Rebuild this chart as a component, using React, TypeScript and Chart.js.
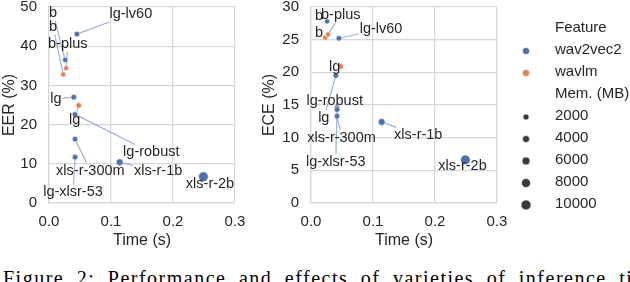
import React, { useEffect, useRef } from 'react';
import { Chart, registerables } from 'chart.js';
Chart.register(...registerables);

// ---- data ----
const models = ['b', 'lg', 'lg-lv60', 'lg-robust', 'lg-xlsr-53', 'xls-r-300m', 'xls-r-1b', 'xls-r-2b', 'b', 'b-plus', 'lg'];
const features = ['wav2vec2', 'wav2vec2', 'wav2vec2', 'wav2vec2', 'wav2vec2', 'wav2vec2', 'wav2vec2', 'wav2vec2', 'wavlm', 'wavlm', 'wavlm'];
const timeS = [0.026, 0.040, 0.045, 0.042, 0.042, 0.042, 0.114, 0.249, 0.023, 0.0275, 0.048];
const eerPct = [36.5, 27.0, 43.1, 22.6, 11.7, 16.3, 10.4, 6.7, 32.8, 34.4, 24.9];
const ecePct = [27.8, 19.5, 25.2, 14.6, 14.3, 13.3, 12.4, 6.6, 25.3, 25.8, 20.9];
const memMB = [360, 1200, 1200, 1200, 1200, 1200, 3800, 9500, 360, 360, 1200];

// text-label anchors (data units)
const eerLabelTime = [0.0065, 0.011, 0.132, 0.165, 0.0387, 0.0667, 0.176, 0.2597, 0.0065, 0.0303, 0.0414];
const eerLabelPct = [48.5, 26.5, 48.2, 12.9, 2.7, 8.25, 8.1, 4.9, 45.0, 40.5, 21.3];
const eceLabelTime = [0.013, 0.0206, 0.113, 0.0383, 0.0399, 0.0493, 0.173, 0.2444, 0.013, 0.048, 0.038];
const eceLabelPct = [28.6, 13.0, 26.7, 15.55, 6.3, 9.97, 10.35, 5.6, 26.0, 28.75, 20.8];

const featureNames = ['wav2vec2', 'wavlm'];
const memLegendMB = [2000, 4000, 6000, 8000, 10000];
const timeTicks = [0, 0.1, 0.2, 0.3];
const eerTicks = [0, 10, 20, 30, 40, 50];
const eceTicks = [0, 5, 10, 15, 20, 25, 30];

// ---- styles ----
const featureColors = ['#4c72b0', '#dd8452'];
const FONT = '"Liberation Sans", Arial, sans-serif';
const TEXT = '#262626';
const GRID = '#d6d6d6';
const LINK = 'rgba(76,114,176,0.55)';
const SIZE_MARK = '#3a3a3a';

function radiusFor(mem: number) {
  return 2.5 + mem / 4000;
}

function labelPlugin(yVals: number[], lx: number[], ly: number[]) {
  return {
    id: 'pointLabels',
    afterDatasetsDraw(chart: any) {
      const { ctx, scales } = chart;
      const x = scales.x, y = scales.y;
      ctx.save();
      ctx.font = `14.5px ${FONT}`;
      const items = models.map((name, i) => ({
        name,
        px: x.getPixelForValue(timeS[i]),
        py: y.getPixelForValue(yVals[i]),
        tx: x.getPixelForValue(lx[i]),
        ty: y.getPixelForValue(ly[i]),
        w: ctx.measureText(name).width,
        r: radiusFor(memMB[i]),
      }));
      ctx.strokeStyle = LINK;
      ctx.lineWidth = 1.2;
      for (const it of items) {
        const dx = it.px - it.tx, dy = it.py - it.ty;
        const hw = it.w / 2 + 1, hh = 8;
        const t = Math.min(dx ? hw / Math.abs(dx) : Infinity, dy ? hh / Math.abs(dy) : Infinity);
        if (t >= 1) continue;
        const sx = it.tx + dx * t, sy = it.ty + dy * t;
        const len = Math.hypot(it.px - sx, it.py - sy);
        if (len < it.r + 1.5) continue;
        const ex = it.px - ((it.px - sx) / len) * it.r;
        const ey = it.py - ((it.py - sy) / len) * it.r;
        ctx.beginPath();
        ctx.moveTo(sx, sy);
        ctx.lineTo(ex, ey);
        ctx.stroke();
      }
      ctx.fillStyle = TEXT;
      ctx.textAlign = 'center';
      ctx.textBaseline = 'middle';
      for (const it of items) ctx.fillText(it.name, it.tx, it.ty);
      ctx.restore();
    },
  };
}

const legendPlugin = {
  id: 'sizeLegend',
  afterDraw(chart: any) {
    const { ctx } = chart;
    const markX = 266, textX = 295, top = 28, step = 22;
    ctx.save();
    ctx.font = `15px ${FONT}`;
    ctx.textAlign = 'left';
    ctx.textBaseline = 'middle';
    const rows: { text: string; color: string | null; r: number }[] = [];
    rows.push({ text: 'Feature', color: null, r: 0 });
    featureNames.forEach((f, k) => rows.push({ text: f, color: featureColors[k], r: 3.6 }));
    rows.push({ text: 'Mem. (MB)', color: null, r: 0 });
    memLegendMB.forEach((m) => rows.push({ text: String(m), color: SIZE_MARK, r: radiusFor(m) }));
    rows.forEach((row, k) => {
      const yy = top + k * step;
      if (row.color) {
        ctx.beginPath();
        ctx.arc(markX, yy + 1, row.r, 0, Math.PI * 2);
        ctx.fillStyle = row.color;
        ctx.fill();
        ctx.strokeStyle = '#ffffff';
        ctx.lineWidth = 0.6;
        ctx.stroke();
      }
      ctx.fillStyle = TEXT;
      ctx.fillText(row.text, textX, yy);
    });
    ctx.restore();
  },
};

function makeChart(
  canvas: HTMLCanvasElement,
  yVals: number[],
  lx: number[],
  ly: number[],
  yTicks: number[],
  yTitle: string,
  yAxisWidth: number,
  padRight: number,
  withLegend: boolean
) {
  const datasets = featureNames.map((f, k) => {
    const idx = models.map((_, i) => i).filter((i) => features[i] === f);
    return {
      label: f,
      data: idx.map((i) => ({ x: timeS[i], y: yVals[i] })),
      pointRadius: idx.map((i) => radiusFor(memMB[i])),
      pointHoverRadius: idx.map((i) => radiusFor(memMB[i])),
      pointBackgroundColor: featureColors[k],
      pointBorderColor: '#ffffff',
      pointBorderWidth: 0.6,
      showLine: false,
    };
  });
  const plugins: any[] = [labelPlugin(yVals, lx, ly)];
  if (withLegend) plugins.push(legendPlugin);
  return new Chart(canvas, {
    type: 'scatter',
    data: { datasets },
    plugins,
    options: {
      animation: false,
      responsive: false,
      layout: { padding: { top: 7, right: padRight, left: 0, bottom: 0 } },
      plugins: { legend: { display: false }, tooltip: { enabled: false } },
      scales: {
        x: {
          type: 'linear',
          min: timeTicks[0],
          max: timeTicks[timeTicks.length - 1],
          afterBuildTicks: (s: any) => {
            s.ticks = timeTicks.map((v) => ({ value: v }));
          },
          afterFit: (s: any) => {
            s.height = 49;
            s.paddingLeft = 0;
            s.paddingRight = 0;
          },
          ticks: {
            callback: (v: any) => Number(v).toFixed(1),
            color: TEXT,
            font: { family: FONT, size: 15 },
            padding: 9.5,
            maxRotation: 0,
            autoSkip: false,
          },
          grid: { color: GRID, lineWidth: 1.2, drawTicks: false },
          border: { color: GRID, width: 1.2 },
          title: {
            display: true,
            text: 'Time (s)',
            color: TEXT,
            font: { family: FONT, size: 16 },
            padding: { top: 0, bottom: 2 },
          },
        },
        y: {
          type: 'linear',
          min: yTicks[0],
          max: yTicks[yTicks.length - 1],
          afterBuildTicks: (s: any) => {
            s.ticks = yTicks.map((v) => ({ value: v }));
          },
          afterFit: (s: any) => {
            s.width = yAxisWidth;
            s.paddingTop = 0;
            s.paddingBottom = 0;
          },
          ticks: {
            callback: (v: any) => String(v),
            color: TEXT,
            font: { family: FONT, size: 15 },
            padding: 12,
            autoSkip: false,
          },
          grid: { color: GRID, lineWidth: 1.2, drawTicks: false },
          border: { color: GRID, width: 1.2 },
          title: {
            display: true,
            text: yTitle,
            color: TEXT,
            font: { family: FONT, size: 16 },
            padding: { top: 0, bottom: 0 },
          },
        },
      },
    } as any,
  });
}

export default function App() {
  const leftRef = useRef<HTMLCanvasElement>(null);
  const rightRef = useRef<HTMLCanvasElement>(null);

  useEffect(() => {
    const c1 = makeChart(leftRef.current!, eerPct, eerLabelTime, eerLabelPct, eerTicks, 'EER (%)', 49, 25, false);
    const c2 = makeChart(rightRef.current!, ecePct, eceLabelTime, eceLabelPct, eceTicks, 'ECE (%)', 51, 133, true);
    return () => {
      c1.destroy();
      c2.destroy();
    };
  }, []);

  return (
    <div
      style={{
        position: 'fixed',
        left: 0,
        top: 0,
        width: 630,
        height: 282,
        overflow: 'hidden',
        background: '#ffffff',
      }}
    >
      <canvas ref={leftRef} width={260} height={252} style={{ position: 'absolute', left: 0, top: 0, width: 260, height: 252 }} />
      <canvas ref={rightRef} width={370} height={252} style={{ position: 'absolute', left: 260, top: 0, width: 370, height: 252 }} />
      <div
        style={{
          position: 'absolute',
          left: 3,
          top: 266,
          fontFamily: '"Liberation Serif", "Times New Roman", serif',
          fontSize: 20,
          lineHeight: '24px',
          whiteSpace: 'nowrap',
          color: '#000',
          letterSpacing: 1.5,
          wordSpacing: 6,
        }}
      >
        Figure 2: Performance and effects of varieties of inference time
      </div>
    </div>
  );
}
